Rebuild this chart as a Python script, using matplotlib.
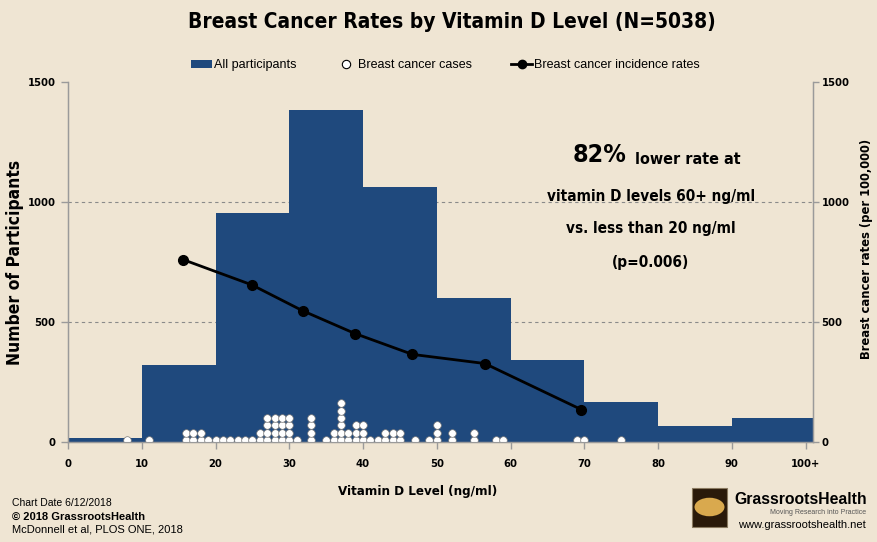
import matplotlib
matplotlib.use("Agg")
import matplotlib.pyplot as plt
from matplotlib.patches import Patch, Rectangle, Circle
from matplotlib.lines import Line2D
from matplotlib import font_manager
import numpy as np

# ---------------- data ----------------
bin_edges = [0, 10, 20, 30, 40, 50, 60, 70, 80, 90, 101]
participants = [15, 320, 955, 1385, 1062, 598, 340, 168, 65, 98]

rate_x = [15.6, 24.9, 31.8, 38.9, 46.7, 56.5, 69.6]
rate_y = [760, 655, 547, 452, 365, 327, 135]

case_levels = [8, 11, 16, 17, 18, 19, 20, 21, 22, 23, 24, 25, 26, 27, 28, 29, 30, 31,
               33, 35, 36, 37, 38, 39, 40, 41, 42, 43, 44, 45, 47, 49, 50, 52, 55,
               58, 59, 69, 70, 75]
case_counts = [1, 1, 2, 2, 2, 1, 1, 1, 1, 1, 1, 1, 2, 4, 4, 4, 4, 1,
               4, 1, 2, 6, 2, 3, 3, 1, 1, 2, 2, 2, 1, 1, 3, 2, 2,
               1, 1, 1, 1, 1]

x_ticks = [0, 10, 20, 30, 40, 50, 60, 70, 80, 90, 100]
x_tick_labels = ["0", "10", "20", "30", "40", "50", "60", "70", "80", "90", "100+"]
y_ticks = [0, 500, 1000, 1500]

# ---------------- style ----------------
BG = "#EFE5D3"
BAR = "#1F497D"
CK = dict(family=["DejaVu Sans"], weight="bold", stretch="condensed")
dot_base, dot_step = 8, 30.6

fig = plt.figure(figsize=(8.78, 5.42), dpi=100, facecolor=BG)
ax = fig.add_axes([68 / 878, 1 - 442 / 542, (813 - 68) / 878, (442 - 82) / 542])
ax.set_facecolor(BG)

widths = np.diff(bin_edges)
ax.bar(bin_edges[:-1], participants, width=widths, align="edge", color=BAR,
       edgecolor="none", zorder=2)

dx, dy = [], []
for lv, c in zip(case_levels, case_counts):
    for i in range(c):
        dx.append(lv)
        dy.append(dot_base + i * dot_step)
ax.scatter(dx, dy, s=30, facecolor="white", edgecolor="#777777", linewidth=0.5, zorder=4)

ax.plot(rate_x, rate_y, color="black", lw=2, marker="o", ms=7, zorder=5)

ax.set_xlim(0, 101)
ax.set_ylim(0, 1500)
ax.set_xticks(x_ticks)
ax.set_xticklabels(x_tick_labels)
ax.set_yticks(y_ticks)
ax.yaxis.grid(True, linestyle=(0, (3, 3)), color="#8a8a8a", lw=0.8, zorder=0)
ax.get_ygridlines()[-1].set_visible(False)
ax.set_axisbelow(True)
for s in ax.spines.values():
    s.set_color("#9a9a9a")
    s.set_linewidth(1.0)
ax.spines["top"].set_visible(False)
ax.tick_params(axis="both", colors="#9a9a9a", length=5, width=1, labelcolor="black")
ax.tick_params(axis="x", pad=7)
ax.tick_params(axis="y", pad=4)
tick_fp = font_manager.FontProperties(size=8, **CK)
for lab in ax.get_xticklabels() + ax.get_yticklabels():
    lab.set_fontproperties(tick_fp)

ax2 = ax.twinx()
ax2.set_ylim(0, 1500)
ax2.set_yticks(y_ticks)
ax2.spines["top"].set_visible(False)
for s in ax2.spines.values():
    s.set_color("#9a9a9a")
ax2.tick_params(axis="y", colors="#9a9a9a", length=4, width=1, labelcolor="black", pad=2)
for lab in ax2.get_yticklabels():
    lab.set_fontproperties(tick_fp)

# axis labels
fig.text(15 / 878, 1 - 262 / 542, "Number of Participants", rotation=90, ha="center",
         va="center", fontsize=12.5, **CK)
fig.text(867 / 878, 1 - 249 / 542, "Breast cancer rates (per 100,000)", rotation=90,
         ha="center", va="center", fontsize=9.3, **CK)
fig.text(418 / 878, 1 - 492 / 542, "Vitamin D Level (ng/ml)", ha="center", va="center",
         fontsize=9.5, **CK)

# title
fig.text(452 / 878, 1 - 22 / 542, "Breast Cancer Rates by Vitamin D Level (N=5038)",
         ha="center", va="center", fontsize=15, **CK)

# legend
handles = [Patch(facecolor=BAR, edgecolor="none"),
           Line2D([], [], ls="none", marker="o", ms=6, mfc="white", mec="black", mew=0.8),
           Line2D([], [], color="black", lw=2, marker="o", ms=6)]
labels = ["All participants", "Breast cancer cases", "Breast cancer incidence rates"]
fig.legend(handles, labels, loc="center", bbox_to_anchor=(445.5 / 878, 1 - 65 / 542),
           ncol=3, frameon=False, prop=dict(family="Liberation Sans", size=9),
           handlelength=1.7, handletextpad=0.15, columnspacing=3.1, handleheight=0.6,
           borderpad=0, borderaxespad=0)

# annotation
fig.text(627 / 878, 1 - 155 / 542, "82%", ha="right", va="center", fontsize=18, **CK)
fig.text(635 / 878, 1 - 159 / 542, "lower rate at", ha="left", va="center",
         fontsize=11.5, **CK)
for txt, yy in [("vitamin D levels 60+ ng/ml", 196), ("vs. less than 20 ng/ml", 228),
                ("(p=0.006)", 262)]:
    fig.text(651 / 878, 1 - yy / 542, txt, ha="center", va="center", fontsize=11, **CK)

# footer left
fig.text(12 / 878, 1 - 503 / 542, "Chart Date 6/12/2018", fontsize=7.5, va="center",
         family="Liberation Sans")
fig.text(12 / 878, 1 - 517 / 542, "\u00a9 2018 GrassrootsHealth", fontsize=8, va="center",
         family="Liberation Sans", weight="bold")
fig.text(12 / 878, 1 - 530 / 542, "McDonnell et al, PLOS ONE, 2018", fontsize=8,
         va="center", family="Liberation Sans")

# footer right (logo)
fig.patches.append(Rectangle((692 / 878, 1 - 527 / 542), 35 / 878, 39 / 542,
                             transform=fig.transFigure, facecolor="#2a1a0a",
                             edgecolor="#8a7a60", lw=0.8))
fig.patches.append(Circle((709.5 / 878, 1 - 507 / 542), 15 / 878,
                          transform=fig.transFigure, facecolor="#d9a94e",
                          edgecolor="none"))
fig.text(867 / 878, 1 - 499 / 542, "GrassrootsHealth", ha="right", va="center",
         fontsize=11.3, family="Liberation Sans", weight="bold")
fig.text(866 / 878, 1 - 513 / 542, "Moving Research into Practice", ha="right",
         va="center", fontsize=5, family="Liberation Sans", color="#555555")
fig.text(866 / 878, 1 - 525 / 542, "www.grassrootshealth.net", ha="right", va="center",
         fontsize=8, family="Liberation Sans")

fig.savefig("out.png", dpi=100, facecolor=BG)
